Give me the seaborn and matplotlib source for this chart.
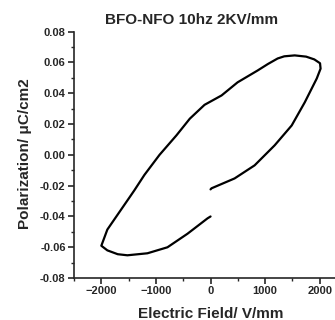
import numpy as np
import pandas as pd
import seaborn as sns
import matplotlib.pyplot as plt

# P-E hysteresis loop (V/mm, uC/cm2), in drawing order
field = [0, 18, 440, 807, 1174, 1486, 1725, 1945, 2015,
         2005, 1900, 1750, 1541, 1350, 1229, 1050, 862, 495, 202,
         -110, -380, -624, -935, -1211, -1395, -1486, -1725, -1890, -2000,
         -1890, -1700, -1523, -1156, -789, -422, -330, -55, 0]
polar = [-0.0224, -0.0217, -0.0153, -0.0068, 0.0062, 0.0191, 0.0341, 0.0496, 0.0560,
         0.0595, 0.0620, 0.0638, 0.0646, 0.0640, 0.0626, 0.0590, 0.0548, 0.0471, 0.0386,
         0.0325, 0.0235, 0.0127, 0.0000, -0.0130, -0.0230, -0.0277, -0.0400, -0.0485, -0.0590,
         -0.0620, -0.0645, -0.0652, -0.0639, -0.0600, -0.0512, -0.0487, -0.0412, -0.0400]

df = pd.DataFrame({"E": field, "P": polar})

sns.set_style("ticks")
plt.rcParams['font.family'] = ['Liberation Sans Narrow', 'Liberation Sans', 'DejaVu Sans']
plt.rcParams['font.weight'] = 'bold'

fig = plt.figure(figsize=(3.35, 3.2), dpi=100)
ax = fig.add_axes([0.221, 0.131, 0.815, 0.770])

sns.lineplot(data=df, x="E", y="P", sort=False, estimator=None,
             color="black", linewidth=1.6, ax=ax)

ax.set_xlim(-2500, 2500)
ax.set_ylim(-0.08, 0.08)
ax.set_xticks([-2000, -1000, 0, 1000, 2000])
ax.set_xticks(np.arange(-2500, 2501, 500), minor=True)
ax.set_yticks(np.arange(-0.08, 0.081, 0.02))
ax.set_yticks(np.arange(-0.08, 0.081, 0.01), minor=True)
ax.set_yticklabels([f"{v:.2f}" for v in np.arange(-0.08, 0.081, 0.02)])
ax.tick_params(axis="both", which="major", labelsize=8, length=4, width=1.2, pad=2)
ax.tick_params(axis="both", which="minor", length=2, width=1)
for lab in ax.get_xticklabels() + ax.get_yticklabels():
    lab.set_fontweight("bold")

ax.spines["top"].set_visible(False)
ax.spines["right"].set_visible(False)
ax.spines["left"].set_linewidth(1.2)
ax.spines["bottom"].set_linewidth(1.2)

ax.set_xlabel("")
ax.set_ylabel("")
fig.text(0.573, 0.937, "BFO-NFO 10hz 2KV/mm", ha="center", va="center",
         fontsize=11, fontweight="bold")
fig.text(0.075, 0.52, "Polarization/ \u03bcC/cm2", ha="center", va="center",
         rotation=90, fontsize=11, fontweight="bold")
fig.text(0.63, 0.018, "Electric Field/ V/mm", ha="center", va="center",
         fontsize=11, fontweight="bold")

fig.savefig("out.png", dpi=100)
